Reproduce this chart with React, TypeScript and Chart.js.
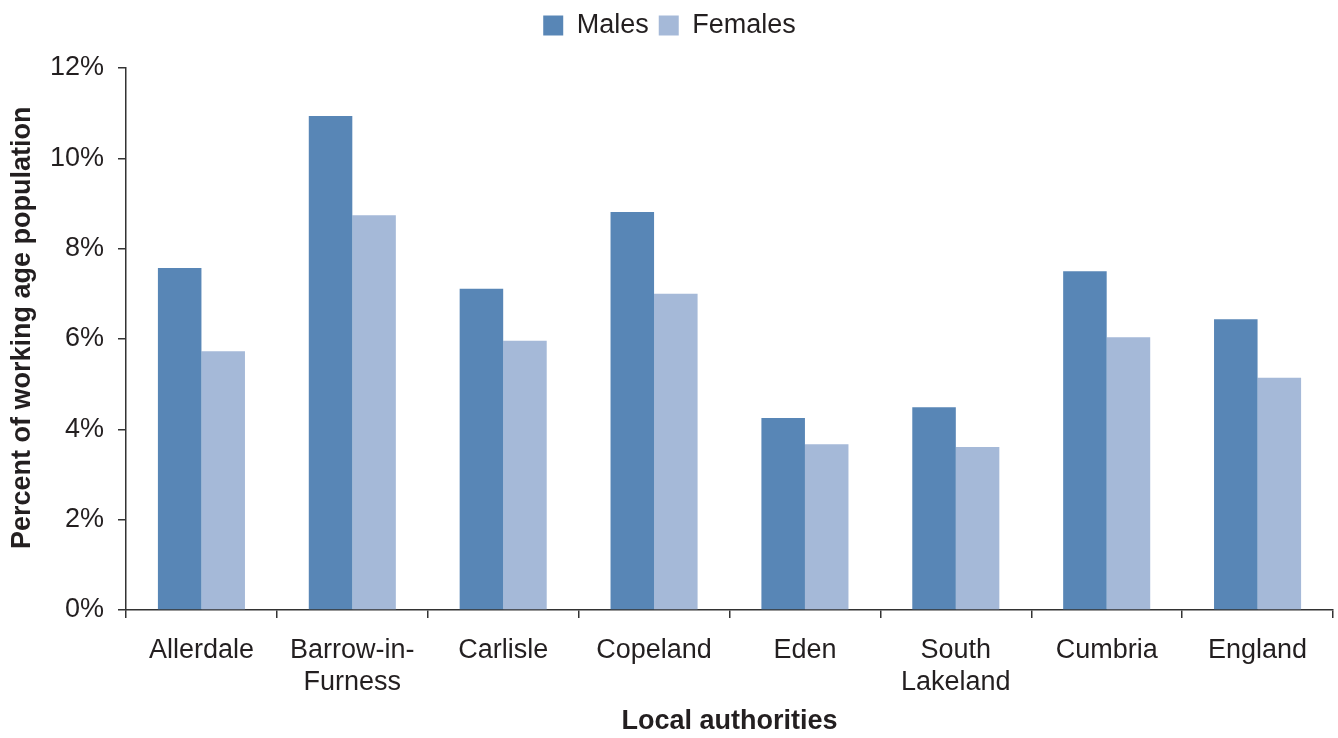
import React, { useEffect, useRef } from "react";
import { Chart, registerables } from "chart.js";

Chart.register(...registerables);

const categories: (string | string[])[] = [
  "Allerdale",
  ["Barrow-in-", "Furness"],
  "Carlisle",
  "Copeland",
  "Eden",
  ["South", "Lakeland"],
  "Cumbria",
  "England",
];

const males = [7.57, 10.94, 7.11, 8.81, 4.25, 4.49, 7.5, 6.44];
const females = [5.73, 8.74, 5.96, 7.0, 3.67, 3.61, 6.04, 5.14];

const yTicks = [0, 2, 4, 6, 8, 10, 12];

const FONT = "'Liberation Sans', Arial, Helvetica, sans-serif";
const TEXT = "#231f20";
const AXIS = "#333333";

// Extra space between the legend row and the plot area.
const LEGEND_GAP = 19;

const legendSpacer = {
  id: "legendSpacer",
  beforeLayout(chart: any) {
    const lg = chart.legend;
    if (lg && !lg._spaced) {
      const fit = lg.fit.bind(lg);
      lg.fit = function () {
        fit();
        this.height += LEGEND_GAP;
      };
      lg._spaced = true;
    }
  },
};

export default function App() {
  const ref = useRef<HTMLCanvasElement | null>(null);

  useEffect(() => {
    document.body.style.margin = "0";
    const canvas = ref.current;
    if (!canvas) return;
    const chart = new Chart(canvas, {
      type: "bar",
      plugins: [legendSpacer],
      data: {
        labels: categories,
        datasets: [
          {
            label: "Males",
            data: males,
            backgroundColor: "#5886b6",
            barPercentage: 1,
            categoryPercentage: 0.577,
          },
          {
            label: "Females",
            data: females,
            backgroundColor: "#a5b9d8",
            barPercentage: 1,
            categoryPercentage: 0.577,
          },
        ],
      },
      options: {
        animation: false,
        responsive: false,
        maintainAspectRatio: false,
        layout: { padding: { left: 6, right: 5, top: 2, bottom: 0 } },
        plugins: {
          tooltip: { enabled: false },
          legend: {
            position: "top",
            labels: {
              boxWidth: 20,
              boxHeight: 20,
              padding: 10,
              color: TEXT,
              font: { family: FONT, size: 27 },
            },
          },
        },
        scales: {
          x: {
            afterFit: (s: any) => {
              s.height = 128;
            },
            grid: {
              offset: true,
              drawOnChartArea: false,
              drawTicks: true,
              tickLength: 8,
              color: AXIS,
              lineWidth: 1.5,
            },
            border: { color: AXIS, width: 1.5 },
            ticks: {
              color: TEXT,
              font: { family: FONT, size: 27, lineHeight: "32px" },
              padding: 17,
              maxRotation: 0,
              autoSkip: false,
            },
            title: {
              display: true,
              text: "Local authorities",
              color: TEXT,
              font: { family: FONT, size: 27, weight: "bold" },
              padding: { top: 0, bottom: 0 },
            },
          },
          y: {
            min: 0,
            max: 12,
            afterFit: (s: any) => {
              s.width = 120;
            },
            afterBuildTicks: (s: any) => {
              s.ticks = yTicks.map((v) => ({ value: v }));
            },
            grid: {
              drawOnChartArea: false,
              drawTicks: true,
              tickLength: 8,
              color: AXIS,
              lineWidth: 1.5,
            },
            border: { color: AXIS, width: 1.5 },
            ticks: {
              color: TEXT,
              font: { family: FONT, size: 27 },
              padding: 14,
              callback: (v: any) => `${v}%`,
            },
            title: {
              display: true,
              text: "   Percent of working age population",
              color: TEXT,
              font: { family: FONT, size: 27, weight: "bold" },
              padding: { top: 0, bottom: 0 },
            },
          },
        },
      },
    });
    return () => chart.destroy();
  }, []);

  return (
    <div style={{ position: "absolute", left: 0, top: 0, width: 1338, height: 738 }}>
      <canvas ref={ref} width={1338} height={738} style={{ display: "block" }} />
    </div>
  );
}
